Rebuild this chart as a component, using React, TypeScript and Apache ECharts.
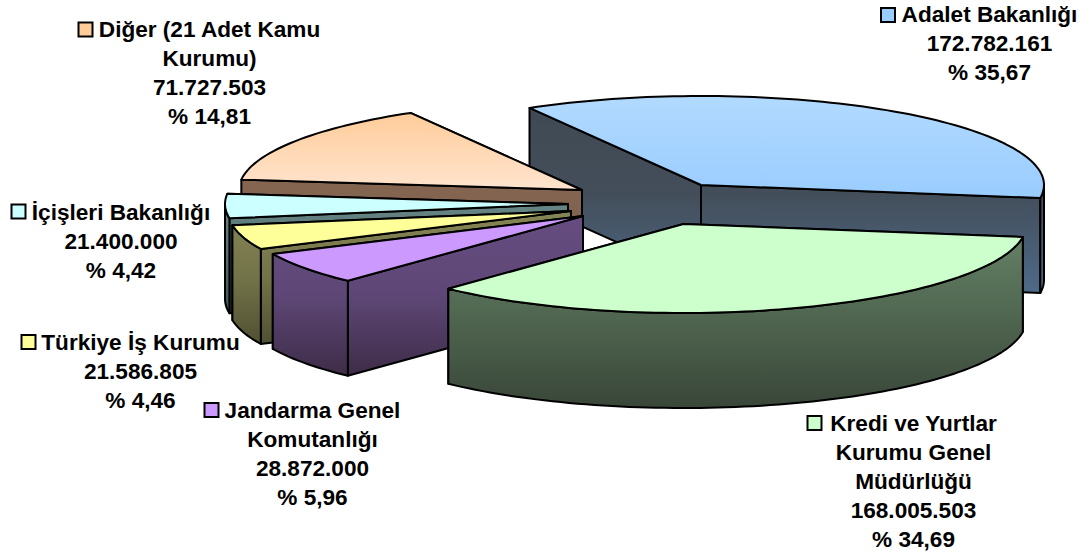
import React, { useEffect, useRef } from "react";
import * as echarts from "echarts";

// ---- data, clockwise from the Adalet slice ----
const sliceNames = ["Adalet Bakanlığı", "Kredi ve Yurtlar Kurumu Genel Müdürlüğü", "Jandarma Genel Komutanlığı", "Türkiye İş Kurumu", "İçişleri Bakanlığı", "Diğer (21 Adet Kamu Kurumu)"];
const sliceValues = [172782161, 168005503, 28872000, 21586805, 21400000, 71727503];

const labelLines = [
  ["Adalet Bakanlığı", "172.782.161", "% 35,67"],
  ["Kredi ve Yurtlar", "Kurumu Genel", "Müdürlüğü", "168.005.503", "% 34,69"],
  ["Jandarma Genel", "Komutanlığı", "28.872.000", "% 5,96"],
  ["Türkiye İş Kurumu", "21.586.805", "% 4,46"],
  ["İçişleri Bakanlığı", "21.400.000", "% 4,42"],
  ["Diğer (21 Adet Kamu", "Kurumu)", "71.727.503", "% 14,81"],
];

// ---- styles and layout ----
const topColors = [
  ["#B2DAFF", "#99CCFF"],
  ["#CCFFCC", "#CCFFCC"],
  ["#CC99FF", "#CC99FF"],
  ["#FFFF99", "#FFFF99"],
  ["#CCFFFF", "#CCFFFF"],
  ["#FFCC99", "#FFE4CF"],
];
const wallColors = [
  ["#3F4953", "#434E5A", "#4E6A88"],
  ["#668469", "#506650", "#394639"],
  ["#664C80", "#5E4776", "#3D2C47"],
  ["#858555", "#737349", "#505033"],
  ["#6A8A8A", "#567070", "#3F5252"],
  ["#8A6A50", "#826450", "#7A5E48"],
];
const swatchColors = ["#99CCFF", "#CCFFCC", "#CC99FF", "#FFFF99", "#CCFFFF", "#FFCC99"];
const apexes = [
  [701, 185],
  [683.5, 224],
  [583, 216],
  [571, 211],
  [568, 204],
  [582, 190],
];
const drawOrder = [0, 5, 4, 3, 2, 1];
const RX = 343;
const RY = 89;
const DEPTH = 95;
const START_ANGLE = 120;

const labelLayout = [
  { cx: 989.5, y: 14, sx: 888, sy: 15 },
  { cx: 913.5, y: 423, sx: 814.5, sy: 423 },
  { cx: 312.5, y: 410, sx: 211.5, sy: 410 },
  { cx: 140.5, y: 342, sx: 28.5, sy: 342 },
  { cx: 121, y: 212, sx: 18.5, sy: 211.5 },
  { cx: 209.5, y: 29, sx: 85.5, sy: 29.5 },
];
const LINE_H = 29;

const total = sliceValues.reduce((a, b) => a + b, 0);
const sliceAngles = (() => {
  let a = START_ANGLE;
  return sliceValues.map((v) => {
    const from = a;
    a -= (v / total) * 360;
    return [from, a];
  });
})();

const rim = (i: number, deg: number, dy = 0) => {
  const r = (deg * Math.PI) / 180;
  return [apexes[i][0] + RX * Math.cos(r), apexes[i][1] - RY * Math.sin(r) + dy];
};

const arc = (i: number, from: number, to: number, dy = 0) => {
  const n = Math.max(2, Math.ceil(Math.abs(from - to) / 1.5));
  const pts: number[][] = [];
  for (let k = 0; k <= n; k++) pts.push(rim(i, from + ((to - from) * k) / n, dy));
  return pts;
};

const renderSlice = (params: any) => {
  const i = drawOrder[params.dataIndex];
  const [from, to] = sliceAngles[i];
  const [ax, ay] = apexes[i];
  const topPts = [[ax, ay], ...arc(i, from, to)];
  const ys = topPts.map((p) => p[1]);
  const yTop = Math.min(...ys);
  const yBot = Math.max(...ys) + DEPTH;

  const wallFill = new echarts.graphic.LinearGradient(
    0, yTop, 0, yBot,
    [
      { offset: 0, color: wallColors[i][0] },
      { offset: 0.5, color: wallColors[i][1] },
      { offset: 1, color: wallColors[i][2] },
    ],
    true
  );
  const topFill = new echarts.graphic.LinearGradient(
    0, yTop, 0, Math.max(...ys),
    [
      { offset: 0, color: topColors[i][0] },
      { offset: 1, color: topColors[i][1] },
    ],
    true
  );
  const line = { stroke: "#000", lineWidth: 2, lineJoin: "round" };

  const cutWall = (deg: number) => {
    const p = rim(i, deg);
    return {
      type: "polygon",
      shape: { points: [[ax, ay], p, [p[0], p[1] + DEPTH], [ax, ay + DEPTH]] },
      style: { fill: wallFill, ...line },
    };
  };
  const edges = [from, to].sort((a, b) => rim(i, a)[1] - rim(i, b)[1]);
  const children: any[] = edges.map(cutWall);

  // curved front wall: only the part of the rim that faces the viewer
  const hi = Math.min(from, 0);
  const lo = Math.max(to, -180);
  if (hi > lo) {
    const upper = arc(i, hi, lo);
    const lower = arc(i, lo, hi, DEPTH);
    children.push({
      type: "polygon",
      shape: { points: [...upper, ...lower] },
      style: { fill: wallFill, ...line },
    });
  }
  children.push({
    type: "polygon",
    shape: { points: topPts },
    style: { fill: topFill, ...line },
  });
  return { type: "group", children };
};

const labelGraphics = () => {
  const out: any[] = [];
  labelLines.forEach((lines, i) => {
    const L = labelLayout[i];
    lines.forEach((txt, k) => {
      out.push({
        type: "text",
        x: L.cx,
        y: L.y + k * LINE_H,
        silent: true,
        style: {
          text: txt,
          fill: "#000",
          font: "bold 22.6px 'Liberation Sans', Arial, sans-serif",
          textAlign: "center",
          textVerticalAlign: "middle",
        },
      });
    });
    out.push({
      type: "rect",
      silent: true,
      shape: { x: L.sx - 7, y: L.sy - 7, width: 14, height: 14 },
      style: { fill: swatchColors[i], stroke: "#000", lineWidth: 2 },
    });
  });
  return out;
};

export default function App() {
  const ref = useRef<HTMLDivElement>(null);
  useEffect(() => {
    document.body.style.margin = "0";
    document.body.style.background = "#fff";
    const chart = echarts.init(ref.current!, undefined, { renderer: "svg" });
    chart.setOption({
      animation: false,
      backgroundColor: "#fff",
      tooltip: { show: false },
      series: [
        {
          type: "custom",
          coordinateSystem: "none",
          silent: true,
          renderItem: renderSlice,
          data: drawOrder.map((i) => ({ name: sliceNames[i], value: sliceValues[i] })),
        },
      ],
      graphic: labelGraphics(),
    });
    return () => chart.dispose();
  }, []);
  return <div ref={ref} style={{ width: 1083, height: 556 }} />;
}
